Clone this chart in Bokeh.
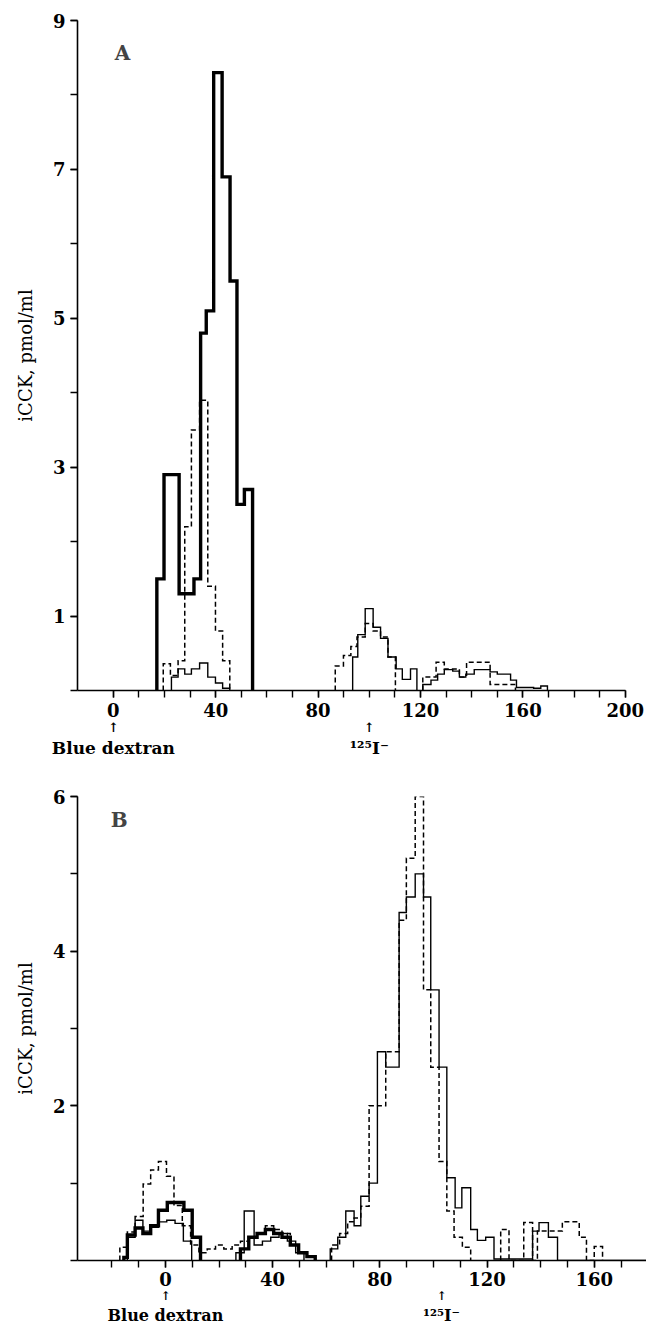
from bokeh.plotting import figure
from bokeh.models import FixedTicker, Label, Range1d, LinearAxis
from bokeh.layouts import column
from bokeh.embed import file_html
from bokeh.resources import INLINE

# ---------------- Panel A data (fraction number vs iCCK, pmol/ml) ----------------
a_thick_edges = [17.0, 19.8, 25.7, 31.5, 34.1, 36.3, 39.2, 42.5, 45.6, 48.3, 51.2, 54.4]
a_thick_vals = [1.5, 2.9, 1.3, 1.5, 4.8, 5.1, 8.3, 6.9, 5.5, 2.5, 2.7]

a_dash1_edges = [19.5, 22.3, 25.3, 27.9, 30.5, 33.7, 36.9, 39.9, 42.7, 45.5]
a_dash1_vals = [0.36, 0.2, 0.4, 2.2, 3.5, 3.9, 1.4, 0.8, 0.4]
a_dash2_edges = [86.7, 89.9, 92.8, 95.2, 98.4, 101.5, 104.4, 107.3, 110.2]
a_dash2_vals = [0.33, 0.47, 0.59, 0.72, 0.9, 0.8, 0.72, 0.45]
a_dash3_edges = [120.9, 126.1, 129.3, 135.2, 138.0, 147.2, 157.1]
a_dash3_vals = [0.18, 0.38, 0.29, 0.18, 0.38, 0.08]

a_thin1_edges = [22.7, 25.3, 27.9, 30.5, 33.7, 36.9, 39.9, 42.7, 45.5]
a_thin1_vals = [0.18, 0.29, 0.22, 0.29, 0.37, 0.18, 0.1, 0.03]
a_thin2_edges = [93.5, 95.5, 98.4, 101.5, 104.4, 107.3, 110.5, 112.9, 116.1, 118.6]
a_thin2_vals = [0.45, 0.75, 1.1, 0.85, 0.7, 0.45, 0.29, 0.15, 0.29]
a_thin3_edges = [120.9, 124.1, 126.7, 129.3, 132.6, 135.2, 137.7, 141.0, 147.2, 150.0,
                 155.2, 157.5, 164.2, 167.0, 169.6]
a_thin3_vals = [0.08, 0.14, 0.22, 0.28, 0.26, 0.18, 0.22, 0.28, 0.25, 0.22, 0.14, 0.04,
                0.03, 0.06]

# ---------------- Panel B data ----------------
b_dash1_edges = [-17.0, -14.2, -11.3, -8.3, -5.5, -2.6, 0.4, 3.2, 6.3, 9.4, 12.5, 15.6,
                 18.7, 21.8, 24.9, 28.0, 31.1, 34.2, 37.3, 40.4, 43.5, 46.6, 49.7, 52.8,
                 55.9]
b_dash1_vals = [0.17, 0.37, 0.57, 0.99, 1.17, 1.28, 1.09, 0.71, 0.45, 0.2, 0.1, 0.15, 0.2,
                0.15, 0.2, 0.25, 0.3, 0.35, 0.45, 0.4, 0.35, 0.2, 0.1, 0.05]
b_dash2_edges = [62.0, 65.0, 68.0, 70.4, 72.9, 76.0, 82.2, 87.2, 89.9, 93.2, 96.3, 99.0,
                 102.1, 105.0, 107.7, 110.8, 113.9]
b_dash2_vals = [0.2, 0.35, 0.5, 0.55, 0.7, 2.0, 2.7, 4.4, 5.2, 6.0, 3.5, 2.5, 1.28, 0.64,
                0.3, 0.17]
b_dash3_edges = [125.1, 128.2, 133.7, 137.0, 138.8, 141.9, 148.1, 154.4, 157.1, 160.0,
                 163.1]
b_dash3_vals = [0.4, 0.0, 0.49, 0.0, 0.38, 0.38, 0.5, 0.3, 0.0, 0.18]

b_thin1_edges = [-14.2, -11.3, -8.4, -5.5, -2.6, 0.5, 3.6, 6.7, 9.8]
b_thin1_vals = [0.3, 0.52, 0.38, 0.43, 0.5, 0.52, 0.48, 0.25]
b_thin2_edges = [26.3, 29.4, 33.1, 36.2, 39.3, 42.4, 45.5, 48.6, 51.7]
b_thin2_vals = [0.1, 0.64, 0.2, 0.25, 0.3, 0.35, 0.25, 0.1]
b_thin3_edges = [61.5, 64.3, 67.3, 70.4, 72.9, 76.0, 79.1, 82.2, 87.2, 89.9, 93.2, 96.3,
                 99.0, 102.1, 105.0, 108.1, 110.6, 113.9, 116.4, 119.5, 122.6, 137.0,
                 139.4, 142.9, 146.3, 180.0]
b_thin3_vals = [0.15, 0.3, 0.64, 0.45, 0.83, 1.0, 2.7, 2.5, 4.5, 4.7, 5.0, 4.7, 3.5, 2.5,
                1.07, 0.68, 0.94, 0.4, 0.26, 0.3, 0.02, 0.38, 0.49, 0.3, 0.0]

b_thick1_edges = [-15.5, -14.2, -11.3, -8.4, -5.5, -2.6, 0.7, 3.8, 6.9, 10.0, 13.1]
b_thick1_vals = [0.04, 0.33, 0.42, 0.35, 0.45, 0.65, 0.75, 0.75, 0.65, 0.3]
b_thick2_edges = [28.0, 31.1, 34.2, 37.3, 40.4, 43.5, 46.6, 49.7, 52.8, 55.9]
b_thick2_vals = [0.15, 0.3, 0.35, 0.4, 0.35, 0.3, 0.2, 0.1, 0.05]

a_xticks = [0, 40, 80, 120, 160, 200]
a_yticks = [1, 3, 5, 7, 9]
b_xticks = [0, 40, 80, 120, 160]
b_yticks = [2, 4, 6]
marker_pos_a = [0, 100]
marker_pos_b = [0, 103]
marker_text = ["Blue dextran", "\u00b9\u00b2\u2075I\u207b"]

SERIF = "DejaVu Serif"


def step_xy(edges, vals):
    xs = [edges[0]] + list(edges)
    ys = [0] + list(vals) + [0]
    return xs, ys


def base_fig(width, height, xr, yr, bl, br, bt, bb):
    p = figure(width=width, height=height, x_range=Range1d(*xr), y_range=Range1d(*yr),
               output_backend="svg", toolbar_location=None,
               min_border_left=bl, min_border_right=br, min_border_top=bt,
               min_border_bottom=bb)
    p.outline_line_color = None
    p.xgrid.visible = False
    p.ygrid.visible = False
    p.background_fill_color = "white"
    p.border_fill_color = "white"
    for ax in (p.xaxis[0], p.yaxis[0]):
        ax.axis_line_width = 1.6
        ax.axis_line_color = "black"
        ax.major_tick_line_width = 1.4
        ax.minor_tick_line_width = 1.4
        ax.major_tick_in = 0
        ax.minor_tick_in = 0
        ax.major_tick_out = 7
        ax.minor_tick_out = 7
        ax.major_label_text_font = SERIF
        ax.major_label_text_font_style = "bold"
        ax.major_label_text_font_size = "18px"
        ax.major_label_text_color = "black"
    p.yaxis.axis_label = "iCCK, pmol/ml"
    p.yaxis.axis_label_text_font = SERIF
    p.yaxis.axis_label_text_font_style = "normal"
    p.yaxis.axis_label_text_font_size = "18px"
    p.yaxis.axis_label_text_color = "black"
    p.yaxis.axis_label_standoff = 14
    p.yaxis.major_label_standoff = 5
    return p


def add_text_axis(p, ticks, texts, size, standoff, bold=True):
    ax = LinearAxis(ticker=FixedTicker(ticks=ticks, minor_ticks=[]),
                    major_label_overrides={t: s for t, s in zip(ticks, texts)})
    ax.axis_line_color = None
    ax.major_tick_line_color = None
    ax.minor_tick_line_color = None
    ax.major_tick_out = 0
    ax.major_tick_in = 0
    ax.minor_tick_out = 0
    ax.minor_tick_in = 0
    ax.major_label_standoff = standoff
    ax.major_label_text_font = SERIF
    ax.major_label_text_font_style = "bold" if bold else "normal"
    ax.major_label_text_font_size = size
    ax.major_label_text_color = "black"
    p.add_layout(ax, "below")


def draw_series(p, edges, vals, kind):
    xs, ys = step_xy(edges, vals)
    if kind == "thick":
        p.step(xs, ys, mode="after", line_width=3.4, line_color="black", line_join="miter")
    elif kind == "dash":
        p.step(xs, ys, mode="after", line_width=1.5, line_color="black",
               line_dash="5 3", line_join="miter")
    else:
        p.step(xs, ys, mode="after", line_width=1.4, line_color="black", line_join="miter")


# ---------------- Panel A ----------------
# both panels share the same left/right borders (77 / 0)
pa = base_fig(646, 760, (-14.0, 208.3), (0, 9), 77, 0, 20, 70)
pa.xaxis.ticker = FixedTicker(ticks=a_xticks, minor_ticks=list(range(0, 201, 10)))
pa.xaxis.bounds = (-14.0, 200)
pa.yaxis.ticker = FixedTicker(ticks=a_yticks, minor_ticks=list(range(0, 10)))
pa.xaxis.major_label_standoff = 5

draw_series(pa, a_thick_edges, a_thick_vals, "thick")
for e, v in ((a_dash1_edges, a_dash1_vals), (a_dash2_edges, a_dash2_vals),
             (a_dash3_edges, a_dash3_vals)):
    draw_series(pa, e, v, "dash")
for e, v in ((a_thin1_edges, a_thin1_vals), (a_thin2_edges, a_thin2_vals),
             (a_thin3_edges, a_thin3_vals)):
    draw_series(pa, e, v, "thin")

pa.add_layout(Label(x=3.6, y=8.57, text="A", text_font=SERIF, text_font_style="bold",
                    text_font_size="20px", text_align="center", text_baseline="middle"))
add_text_axis(pa, marker_pos_a, ["\u2191", "\u2191"], "13px", 0)
add_text_axis(pa, marker_pos_a, marker_text, "17px", 0)

# ---------------- Panel B ----------------
pb = base_fig(646, 567, (-32.8, 179.5), (0, 6), 77, 0, 36, 66)
pb.xaxis.ticker = FixedTicker(ticks=b_xticks, minor_ticks=list(range(-20, 181, 10)))
pb.yaxis.ticker = FixedTicker(ticks=b_yticks, minor_ticks=list(range(0, 7)))
pb.xaxis.major_label_standoff = 4

for e, v in ((b_dash1_edges, b_dash1_vals), (b_dash2_edges, b_dash2_vals),
             (b_dash3_edges, b_dash3_vals)):
    draw_series(pb, e, v, "dash")
for e, v in ((b_thin1_edges, b_thin1_vals), (b_thin2_edges, b_thin2_vals),
             (b_thin3_edges, b_thin3_vals)):
    draw_series(pb, e, v, "thin")
for e, v in ((b_thick1_edges, b_thick1_vals), (b_thick2_edges, b_thick2_vals)):
    draw_series(pb, e, v, "thick")

pb.add_layout(Label(x=-17.2, y=5.69, text="B", text_font=SERIF, text_font_style="bold",
                    text_font_size="20px", text_align="center", text_baseline="middle"))
add_text_axis(pb, marker_pos_b, ["\u2191", "\u2191"], "12px", 0)
add_text_axis(pb, marker_pos_b, marker_text, "16px", 0)

layout = column(pa, pb, spacing=0)
open("out.html", "w").write(file_html(layout, INLINE))
